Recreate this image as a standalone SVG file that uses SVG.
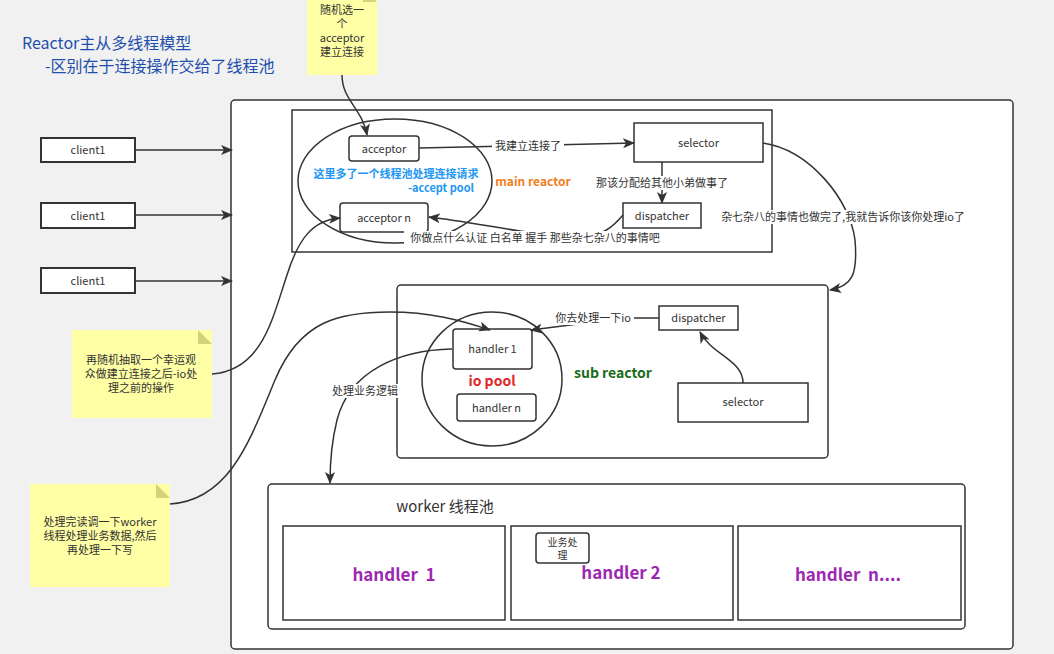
<svg xmlns="http://www.w3.org/2000/svg" width="1054" height="654" viewBox="0 0 1054 654">
<style>
text{font-family:"Noto Sans CJK SC","Noto Sans",sans-serif;fill:#333;}
.box{fill:#fff;stroke:#333;stroke-width:1.5;}
.cl{fill:#fff;stroke:#333;stroke-width:2;}
.note{fill:#ffffa6;}
.fold{fill:#d3d37b;}
.t12{font-size:12px;text-anchor:middle;}
.t11{font-size:11px;text-anchor:middle;}
.lbl{font-size:11px;text-anchor:middle;}
.edge{fill:none;stroke:#333;stroke-width:1.5;}
.hd{font-size:17px;font-weight:bold;fill:#9c27b0;text-anchor:middle;white-space:pre;}
</style>
<defs>
<marker id="arr" markerWidth="12" markerHeight="10" refX="11" refY="5" orient="auto" markerUnits="userSpaceOnUse">
<path d="M0,0 L12,5 L0,10 L3,5 Z" fill="#333"/>
</marker>
</defs>
<rect x="0" y="0" width="1054" height="654" fill="#f1f1f1"/>

<g id="title">
<text x="22" y="49" style="font-size:16px;fill:#1f4fae">Reactor主从多线程模型</text>
<text x="45" y="72" style="font-size:16px;fill:#1f4fae">-区别在于连接操作交给了线程池</text>
</g>

<g id="outer"><rect x="231" y="100" width="782" height="549" rx="4" class="box"/></g>

<g id="main-reactor">
<rect x="292" y="110" width="480" height="142" class="box"/>
<text x="533" y="186" style="font-size:12px;font-weight:bold;fill:#f0801e;text-anchor:middle">main reactor</text>
</g>
<g id="accept-pool">
<ellipse cx="395" cy="181" rx="97" ry="62" fill="none" stroke="#333" stroke-width="1.5"/>
<text x="396" y="178" style="font-size:11px;font-weight:bold;fill:#2196f3;text-anchor:middle">这里多了一个线程池处理连接请求</text>
<text x="474" y="192" style="font-size:11px;font-weight:bold;fill:#2196f3;text-anchor:end">-accept pool</text>
</g>
<g id="acceptor"><rect x="349" y="136" width="70" height="25" rx="3" class="box"/><text x="384" y="152.5" class="t11">acceptor</text></g>
<g id="acceptor-n"><rect x="340" y="203" width="88" height="29" rx="3" class="box"/><text x="384" y="222" class="t11">acceptor n</text></g>
<g id="selector-main"><rect x="634" y="123" width="129" height="39" class="box"/><text x="698.5" y="147" class="t11">selector</text></g>
<g id="dispatcher-main"><rect x="623" y="203" width="78" height="25" class="box"/><text x="662" y="219.5" class="t11">dispatcher</text></g>

<g id="client1-a"><rect x="41" y="138" width="94" height="24" class="cl"/><text x="88" y="154" class="t11">client1</text></g>
<g id="client1-b"><rect x="41" y="203" width="94" height="25" class="cl"/><text x="88" y="219.5" class="t11">client1</text></g>
<g id="client1-c"><rect x="41" y="268" width="94" height="25" class="cl"/><text x="88" y="284.5" class="t11">client1</text></g>

<g id="note-top">
<rect x="307" y="-12" width="70" height="87" class="note"/>
<path d="M363,-12 L363,2 L377,2 Z" class="fold"/>
<text x="342" y="14" class="t11">随机选一</text>
<text x="342" y="28" class="t11">个</text>
<text x="342" y="42" class="t11">acceptor</text>
<text x="342" y="56" class="t11">建立连接</text>
</g>
<g id="note-mid">
<rect x="72" y="330" width="140" height="88" class="note"/>
<path d="M198,330 L198,344 L212,344 Z" class="fold"/>
<text x="141" y="364" class="t11">再随机抽取一个幸运观</text>
<text x="141" y="378" class="t11">众做建立连接之后-io处</text>
<text x="141" y="392" class="t11">理之前的操作</text>
</g>
<g id="note-bottom">
<rect x="30" y="484" width="140" height="103" class="note"/>
<path d="M156,484 L156,498 L170,498 Z" class="fold"/>
<text x="100" y="526" class="t11">处理完读调一下worker</text>
<text x="100" y="540" class="t11">线程处理业务数据,然后</text>
<text x="100" y="554" class="t11">再处理一下写</text>
</g>

<g id="sub-reactor">
<rect x="397" y="285" width="431" height="173" rx="4" class="box"/>
<text x="613" y="378" style="font-size:14px;font-weight:bold;fill:#1b6b1b;text-anchor:middle">sub reactor</text>
</g>
<g id="io-pool">
<ellipse cx="492" cy="379" rx="70" ry="67" fill="none" stroke="#333" stroke-width="1.5"/>
<text x="492" y="386" style="font-size:14px;font-weight:bold;fill:#e0252b;text-anchor:middle">io pool</text>
</g>
<g id="handler-1"><rect x="453" y="329" width="79" height="40" rx="3" class="box"/><text x="492.5" y="353" class="t11">handler 1</text></g>
<g id="handler-n"><rect x="457" y="394" width="79" height="27" rx="3" class="box"/><text x="496.5" y="412" class="t11">handler n</text></g>
<g id="dispatcher-sub"><rect x="659" y="306" width="79" height="24" class="box"/><text x="698.5" y="322" class="t11">dispatcher</text></g>
<g id="selector-sub"><rect x="678" y="383" width="130" height="39" class="box"/><text x="743" y="406" class="t11">selector</text></g>

<g id="worker-pool">
<rect x="268" y="484" width="697" height="145" rx="4" class="box"/>
<text x="445" y="512" style="font-size:15px;text-anchor:middle">worker 线程池</text>
</g>
<g id="worker-handler-1"><rect x="283" y="526" width="222" height="94" class="box"/><text x="394" y="581" class="hd" xml:space="preserve">handler  1</text></g>
<g id="worker-handler-2"><rect x="511" y="526" width="222" height="94" class="box"/><text x="621" y="579" class="hd">handler 2</text></g>
<g id="worker-handler-n"><rect x="738" y="526" width="223" height="94" class="box"/><text x="848" y="581" class="hd" xml:space="preserve">handler  n....</text></g>
<g id="biz"><rect x="536" y="533" width="53" height="30" rx="3" class="box"/><text x="562.5" y="546" style="font-size:10px;text-anchor:middle">业务处</text><text x="562.5" y="559" style="font-size:10px;text-anchor:middle">理</text></g>

<g id="connectors">
<path class="edge" d="M135,150 L232,150" marker-end="url(#arr)"/>
<path class="edge" d="M135,215 L232,215" marker-end="url(#arr)"/>
<path class="edge" d="M135,281 L232,281" marker-end="url(#arr)"/>
<path class="edge" d="M342,75 C342,100 362,108 367,135" marker-end="url(#arr)"/>
<path class="edge" d="M419,148 L634,143" marker-end="url(#arr)"/>
<path class="edge" d="M662,162 L662,203" marker-end="url(#arr)"/>
<path class="edge" d="M623,215 C612,228 602,236 580,237 C540,237 480,223 429,217" marker-end="url(#arr)"/>
<path class="edge" d="M763,143 C810,150 850,200 855,240 C858,275 852,286 830,290" marker-end="url(#arr)"/>
<path class="edge" d="M212,374 C262,370 272,320 287,275 C298,240 312,220 340,218" marker-end="url(#arr)"/>
<path class="edge" d="M170,504 C230,500 250,440 275,380 C300,320 340,312 390,312 C430,312 460,320 490,330" marker-end="url(#arr)"/>
<path class="edge" d="M452,349 C400,350 350,370 337,420 C332,440 330,460 330,483" marker-end="url(#arr)"/>
<path class="edge" d="M743,383 C743,360 712,355 700,332" marker-end="url(#arr)"/>
<path class="edge" d="M659,318 L625,318 L531,330" marker-end="url(#arr)"/>
</g>

<g id="edge-labels">
<rect x="492" y="138" width="72" height="14" fill="#fff"/>
<text x="528" y="149.5" class="lbl">我建立连接了</text>
<rect x="594" y="176" width="136" height="14" fill="#fff"/>
<text x="662" y="187" class="lbl">那该分配给其他小弟做事了</text>
<rect x="404" y="231" width="262" height="14" fill="#fff"/>
<text x="535" y="242" class="lbl">你做点什么认证 白名单 握手 那些杂七杂八的事情吧</text>
<rect x="717" y="210" width="252" height="14" fill="#fff"/>
<text x="843" y="221" class="lbl">杂七杂八的事情也做完了,我就告诉你该你处理io了</text>
<rect x="552" y="311" width="82" height="14" fill="#fff"/>
<text x="593" y="322" class="lbl">你去处理一下io</text>
<rect x="329" y="384" width="72" height="14" fill="#fff"/>
<text x="365" y="395" class="lbl">处理业务逻辑</text>
</g>
</svg>
